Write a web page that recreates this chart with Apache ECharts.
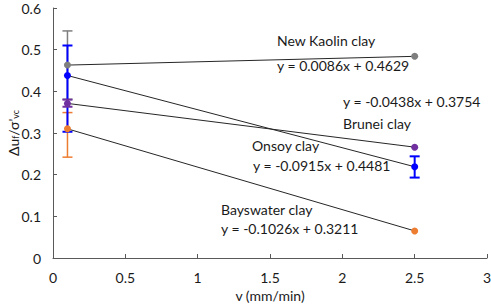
<!DOCTYPE html>
<html>
<head>
    <meta charset="utf-8">
    <title>ECharts</title>
    <script src="https://cdn.jsdelivr.net/npm/echarts@6/dist/echarts.min.js"></script>
    <style>body{margin:0;}</style>
</head>
<body>
    <div id="main" style="width: 491px;height:307px;"></div>
    <script type="text/javascript">
    // speeds tested
    var speeds = [0.1, 2.5];
    // mean values per clay
    var kaolin = [0.463, 0.484];
    var brunei = [0.371, 0.266];
    var onsoy = [0.438, 0.219];
    var bayswater = [0.310, 0.065];
    // error bars [x, low, high]
    var kaolinErr = [[0.1, 0.381, 0.545]];
    var bayswaterErr = [[0.1, 0.242, 0.349]];
    var onsoyErr = [[0.1, 0.303, 0.510], [2.5, 0.193, 0.244]];
    var bruneiErr = [[0.1, 0.363, 0.380]];

    var FONT = 'Lato';

    function pairs(ys) {
        return speeds.map(function (x, i) { return [x, ys[i]]; });
    }

    function errSeries(data, color, width) {
        return {
            type: 'custom',
            data: data,
            z: 3,
            renderItem: function (params, api) {
                var x = api.value(0);
                var top = api.coord([x, api.value(2)]);
                var bot = api.coord([x, api.value(1)]);
                var w = 5;
                var st = { stroke: color, lineWidth: width };
                return {
                    type: 'group',
                    children: [
                        { type: 'line', shape: { x1: top[0], y1: top[1], x2: bot[0], y2: bot[1] }, style: st },
                        { type: 'line', shape: { x1: top[0] - w, y1: top[1], x2: top[0] + w, y2: top[1] }, style: st },
                        { type: 'line', shape: { x1: bot[0] - w, y1: bot[1], x2: bot[0] + w, y2: bot[1] }, style: st }
                    ]
                };
            }
        };
    }

    function lineSeries(ys, color) {
        return {
            type: 'line',
            data: pairs(ys),
            symbol: 'circle',
            symbolSize: 7,
            z: 4,
            lineStyle: { color: '#262626', width: 1 },
            itemStyle: { color: color }
        };
    }

    function txt(x, y, s) {
        return { type: 'text', left: x, top: y, style: { text: s, font: '14px ' + FONT, fill: '#1a1a1a' } };
    }

    var myChart = echarts.init(document.getElementById('main'), null, { renderer: 'svg' });
    var option = {
        animation: false,
        grid: { left: 53, right: 4, top: 8, bottom: 49, containLabel: false, outerBoundsMode: 'none' },
        xAxis: {
            type: 'value', min: 0, max: 3, interval: 0.5,
            name: 'v (mm/min)', nameLocation: 'middle', nameGap: 29,
            nameTextStyle: { fontFamily: FONT, fontSize: 14, color: '#1a1a1a' },
            axisLine: { lineStyle: { color: '#595959' } },
            axisTick: { inside: true, length: 4, lineStyle: { color: '#595959' } },
            axisLabel: { fontFamily: FONT, fontSize: 14, color: '#1a1a1a', margin: 12 },
            splitLine: { show: false }
        },
        yAxis: {
            type: 'value', min: 0, max: 0.6, interval: 0.1,
            name: 'Δu{s|f}/σ\'{s|vc}', nameLocation: 'middle', nameGap: 33,
            nameMoveOverlap: false,
            nameTextStyle: {
                fontFamily: FONT, fontSize: 14, color: '#1a1a1a',
                rich: { s: { fontFamily: FONT, fontSize: 9, color: '#1a1a1a', verticalAlign: 'bottom' } }
            },
            axisLine: { show: true, lineStyle: { color: '#595959' } },
            axisTick: { show: true, inside: true, length: 4, lineStyle: { color: '#595959' } },
            axisLabel: { fontFamily: FONT, fontSize: 14, color: '#1a1a1a', margin: 12 },
            splitLine: { show: false }
        },
        series: [
            errSeries(kaolinErr, '#7f7f7f', 1.5),
            errSeries(bayswaterErr, '#ed7d31', 1.5),
            errSeries(onsoyErr, '#0000ff', 2),
            errSeries(bruneiErr, '#7030a0', 2),
            lineSeries(kaolin, '#7f7f7f'),
            lineSeries(bayswater, '#ed7d31'),
            lineSeries(onsoy, '#0000ff'),
            lineSeries(brunei, '#7030a0')
        ],
        graphic: [
            txt(277, 33, 'New Kaolin clay'),
            txt(277, 58, 'y = 0.0086x + 0.4629'),
            txt(343, 94, 'y = -0.0438x + 0.3754'),
            txt(343, 116, 'Brunei clay'),
            txt(252, 138, 'Onsoy clay'),
            txt(253, 158, 'y = -0.0915x + 0.4481'),
            txt(221, 202, 'Bayswater clay'),
            txt(221, 221, 'y = -0.1026x + 0.3211')
        ]
    };
    myChart.setOption(option);
    </script>
</body>
</html>
